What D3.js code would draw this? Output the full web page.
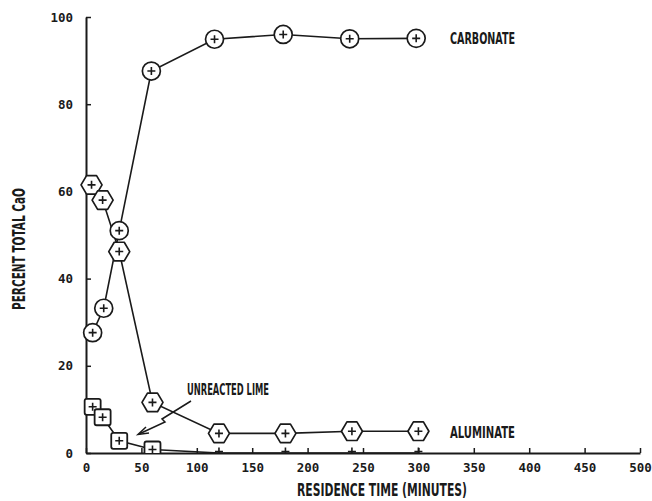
<!DOCTYPE html>
<html>
<head>
<meta charset="utf-8">
<script src="https://cdn.jsdelivr.net/npm/d3@7/dist/d3.min.js"></script>
<style>
  html, body { margin: 0; padding: 0; background: #fff; }
  svg { display: block; }
  .tick text { font-family: "DejaVu Sans Mono", monospace; font-weight: bold; font-size: 12.5px; fill: #1a1a1a; }
  .lbl { font-family: "Liberation Sans Narrow", "DejaVu Sans Condensed", sans-serif; font-weight: bold; fill: #1a1a1a; }
</style>
</head>
<body>
<script>
// Residence time (minutes) and share of total CaO for each phase
const carbonateTime  = [6, 16, 30, 59, 116, 178, 238, 298];
const carbonateValue = [27.6, 33.2, 51, 87.6, 94.9, 96.0, 95.0, 95.1];
const aluminateTime  = [5, 15, 30, 60, 120, 180, 240, 300];
const aluminateValue = [61.5, 58, 46.2, 11.6, 4.5, 4.5, 5.0, 5.0];
const limeTime       = [6, 15, 30, 60, 120, 180, 240, 300];
const limeValue      = [10.6, 8.2, 2.8, 0.8, 0, 0, 0, 0];
const xTicks = [0, 50, 100, 150, 200, 250, 300, 350, 400, 450, 500];
const yTicks = [0, 20, 40, 60, 80, 100];

const W = 652, H = 501;
const ink = "#1a1a1a";
const svg = d3.select("body").append("svg").attr("width", W).attr("height", H);

const x = d3.scaleLinear().domain([0, 500]).range([86, 640]);
const y = d3.scaleLinear().domain([0, 100]).range([453, 17]);

// Axes with ticks pointing into the plot
const xAxis = svg.append("g").attr("transform", `translate(0,${y(0)})`)
  .call(d3.axisBottom(x).tickValues(xTicks).tickSizeInner(-5).tickSizeOuter(0).tickPadding(10));
const yAxis = svg.append("g").attr("transform", `translate(${x(0)},0)`)
  .call(d3.axisLeft(y).tickValues(yTicks).tickSizeInner(-5).tickSizeOuter(0).tickPadding(13));
[xAxis, yAxis].forEach(g => {
  g.select(".domain").attr("stroke", ink).attr("stroke-width", 2);
  g.selectAll(".tick line").attr("stroke", ink).attr("stroke-width", 1.5);
});

svg.append("defs").append("clipPath").attr("id", "plotClip")
  .append("rect").attr("x", 0).attr("y", 0).attr("width", W).attr("height", y(0));

const zip = (ts, vs) => ts.map((t, i) => ({ t, v: vs[i] }));
const carbonate = zip(carbonateTime, carbonateValue);
const aluminate = zip(aluminateTime, aluminateValue);
const lime = zip(limeTime, limeValue);

const line = d3.line().x(d => x(d.t)).y(d => y(d.v));
const plot = svg.append("g").attr("clip-path", "url(#plotClip)");

[lime, aluminate, carbonate].forEach(s => {
  plot.append("path").datum(s).attr("d", line)
    .attr("fill", "none").attr("stroke", ink).attr("stroke-width", 1.6);
});

// Arrow pointing at the unreacted lime curve
svg.append("path")
  .attr("d", "M191,401 L162,419 L165,422 L139,434")
  .attr("fill", "none").attr("stroke", ink).attr("stroke-width", 1.5);
svg.append("path")
  .attr("d", "M146,427 L138,434.5 L149,433")
  .attr("fill", "none").attr("stroke", ink).attr("stroke-width", 1.5);

function plus(g, cx, cy, r) {
  g.append("path").attr("d", `M${cx - r},${cy} H${cx + r} M${cx},${cy - r} V${cy + r}`)
    .attr("stroke", ink).attr("stroke-width", 1.6).attr("fill", "none");
}

// Unreacted lime: squares
const limeG = plot.append("g");
lime.forEach(d => {
  const cx = x(d.t), cy = y(d.v);
  if (d.v > 0) {
    limeG.append("rect").attr("x", cx - 8).attr("y", cy - 8).attr("width", 16).attr("height", 16)
      .attr("rx", 2).attr("fill", "#fff").attr("stroke", ink).attr("stroke-width", 1.8);
  }
  plus(limeG, cx, cy - (d.v > 0 ? 0 : 1.5), 4);
});

// Carbonate: circles
const carbG = plot.append("g");
carbonate.forEach(d => {
  const cx = x(d.t), cy = y(d.v);
  carbG.append("circle").attr("cx", cx).attr("cy", cy).attr("r", 9)
    .attr("fill", "#fff").attr("stroke", ink).attr("stroke-width", 1.7);
  plus(carbG, cx, cy, 4);
});

// Aluminate: hexagons
const hexPath = (cx, cy) => {
  const w = 10.5, h = 9.3, s = 5;
  return `M${cx - w},${cy} L${cx - s},${cy - h} L${cx + s},${cy - h} L${cx + w},${cy} L${cx + s},${cy + h} L${cx - s},${cy + h} Z`;
};
const aluG = plot.append("g");
aluminate.forEach(d => {
  const cx = x(d.t), cy = y(d.v);
  aluG.append("path").attr("d", hexPath(cx, cy))
    .attr("fill", "#fff").attr("stroke", ink).attr("stroke-width", 1.7).attr("stroke-linejoin", "round");
  plus(aluG, cx, cy, 4);
});

// Series labels
const label = (txt, px, py, len, size) =>
  svg.append("text").attr("class", "lbl").attr("x", px).attr("y", py)
    .attr("font-size", size).attr("textLength", len).attr("lengthAdjust", "spacingAndGlyphs").text(txt);

label("CARBONATE", 450, 44, 65, 16);
label("ALUMINATE", 450, 438, 65, 16);
label("UNREACTED LIME", 187, 395, 82, 16);

// Axis titles
label("RESIDENCE TIME (MINUTES)", 297, 496, 170, 17);
svg.append("text").attr("class", "lbl")
  .attr("transform", "translate(25,310) rotate(-90)")
  .attr("font-size", 17).attr("textLength", 122).attr("lengthAdjust", "spacingAndGlyphs")
  .text("PERCENT TOTAL CaO");
</script>
</body>
</html>
